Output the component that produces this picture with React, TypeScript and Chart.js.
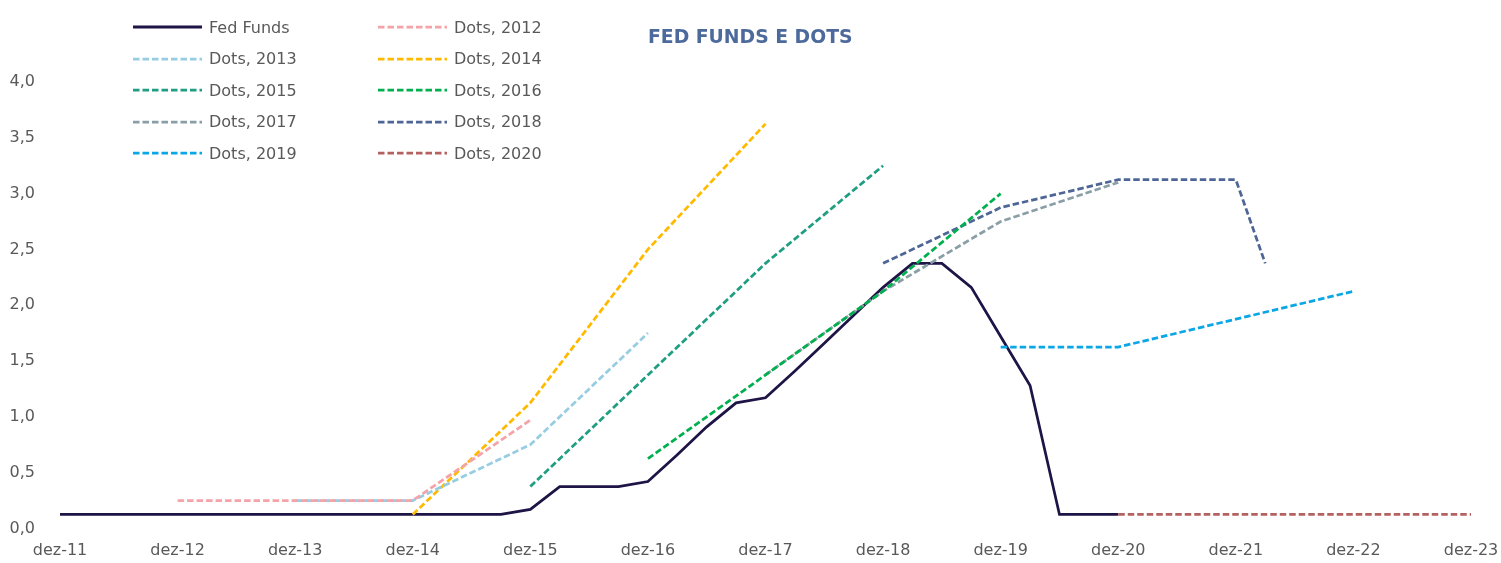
import React, { useEffect, useRef } from "react";
import { Chart, registerables } from "chart.js";

Chart.register(...registerables);

const quarterLabels: string[] = [
  "dez-11",
  "mar-12", "jun-12", "set-12", "dez-12",
  "mar-13", "jun-13", "set-13", "dez-13",
  "mar-14", "jun-14", "set-14", "dez-14",
  "mar-15", "jun-15", "set-15", "dez-15",
  "mar-16", "jun-16", "set-16", "dez-16",
  "mar-17", "jun-17", "set-17", "dez-17",
  "mar-18", "jun-18", "set-18", "dez-18",
  "mar-19", "jun-19", "set-19", "dez-19",
  "mar-20", "jun-20", "set-20", "dez-20",
  "mar-21", "jun-21", "set-21", "dez-21",
  "mar-22", "jun-22", "set-22", "dez-22",
  "mar-23", "jun-23", "set-23", "dez-23",
];

const yTicks: number[] = [0, 0.5, 1, 1.5, 2, 2.5, 3, 3.5, 4];

// Fed Funds, quarterly from dez-11 to dez-20
const fedFunds: number[] = [
  0.125,
  0.125, 0.125, 0.125, 0.125,
  0.125, 0.125, 0.125, 0.125,
  0.125, 0.125, 0.125, 0.125,
  0.125, 0.125, 0.125, 0.17,
  0.375, 0.375, 0.375, 0.42,
  0.66, 0.91, 1.125, 1.17,
  1.41, 1.66, 1.91, 2.16,
  2.375, 2.375, 2.16, 1.72,
  1.28, 0.125, 0.125, 0.125,
];

type Pt = [string, number];
const dots2012: Pt[] = [["dez-12", 0.25], ["dez-13", 0.25], ["dez-14", 0.25], ["dez-15", 0.97]];
const dots2013: Pt[] = [["dez-13", 0.25], ["dez-14", 0.25], ["dez-15", 0.75], ["dez-16", 1.75]];
const dots2014: Pt[] = [["dez-14", 0.125], ["dez-15", 1.125], ["dez-16", 2.5], ["dez-17", 3.625]];
const dots2015: Pt[] = [["dez-15", 0.375], ["dez-16", 1.375], ["dez-17", 2.375], ["dez-18", 3.25]];
const dots2016: Pt[] = [["dez-16", 0.625], ["dez-17", 1.375], ["dez-18", 2.125], ["dez-19", 3.0]];
const dots2017: Pt[] = [["dez-17", 1.375], ["dez-18", 2.125], ["dez-19", 2.75], ["dez-20", 3.1]];
const dots2018: Pt[] = [["dez-18", 2.375], ["dez-19", 2.875], ["dez-20", 3.125], ["dez-21", 3.125], ["mar-22", 2.375]];
const dots2019: Pt[] = [["dez-19", 1.625], ["dez-20", 1.625], ["dez-21", 1.875], ["dez-22", 2.125]];
const dots2020: Pt[] = [["dez-20", 0.125], ["dez-21", 0.125], ["dez-22", 0.125], ["dez-23", 0.125]];

type SeriesDef = { name: string; color: string; dashed: boolean; pts?: Pt[] };

const FF_COLOR = "#1E1445";

const dotSeries: SeriesDef[] = [
  { name: "Dots, 2012", color: "#F4A3A8", dashed: true, pts: dots2012 },
  { name: "Dots, 2013", color: "#96CDE2", dashed: true, pts: dots2013 },
  { name: "Dots, 2014", color: "#FFBA00", dashed: true, pts: dots2014 },
  { name: "Dots, 2015", color: "#1F9E82", dashed: true, pts: dots2015 },
  { name: "Dots, 2016", color: "#00B04F", dashed: true, pts: dots2016 },
  { name: "Dots, 2017", color: "#8A9EA6", dashed: true, pts: dots2017 },
  { name: "Dots, 2018", color: "#4E6696", dashed: true, pts: dots2018 },
  { name: "Dots, 2019", color: "#0AA6E6", dashed: true, pts: dots2019 },
  { name: "Dots, 2020", color: "#B4625F", dashed: true, pts: dots2020 },
];

// legend order (two columns, row-major)
const legendItems: SeriesDef[] = [
  { name: "Fed Funds", color: FF_COLOR, dashed: false },
  dotSeries[0],
  dotSeries[1],
  dotSeries[2],
  dotSeries[3],
  dotSeries[4],
  dotSeries[5],
  dotSeries[6],
  dotSeries[7],
  dotSeries[8],
];

const FONT = "'DejaVu Sans', Verdana, sans-serif";
const TEXT = "#595959";

export default function App() {
  const ref = useRef<HTMLCanvasElement | null>(null);

  useEffect(() => {
    if (!ref.current) return;
    const datasets: any[] = [];
    dotSeries.forEach((s) => {
      datasets.push({
        label: s.name,
        data: (s.pts || []).map(([x, y]) => ({ x, y })),
        borderColor: s.color,
        backgroundColor: s.color,
        borderWidth: 2.75,
        borderDash: [6.5, 3],
        pointRadius: 0,
        tension: 0,
        fill: false,
      });
    });
    datasets.push({
      label: "Fed Funds",
      data: fedFunds,
      borderColor: FF_COLOR,
      backgroundColor: FF_COLOR,
      borderWidth: 2.75,
      pointRadius: 0,
      tension: 0,
      fill: false,
    });

    const chart = new Chart(ref.current, {
      type: "line",
      data: { labels: quarterLabels, datasets },
      options: {
        animation: false,
        responsive: false,
        maintainAspectRatio: false,
        layout: { padding: { left: 0, right: 30, top: 82, bottom: 0 } },
        plugins: {
          legend: { display: false },
          title: { display: false },
          tooltip: { enabled: false },
        },
        scales: {
          x: {
            type: "category",
            offset: false,
            grid: { display: false, drawTicks: false },
            border: { display: false },
            ticks: {
              autoSkip: false,
              maxRotation: 0,
              minRotation: 0,
              padding: 13,
              color: TEXT,
              font: { family: FONT, size: 16 },
              callback: function (this: any, val: any) {
                const l = this.getLabelForValue(val);
                return l.startsWith("dez") ? l : "";
              },
            },
            afterFit: (scale: any) => {
              scale.height = 33;
              scale.paddingRight = 0;
              scale.paddingLeft = 0;
            },
          },
          y: {
            min: 0,
            max: 4,
            grid: { display: false, drawTicks: false },
            border: { display: false },
            afterBuildTicks: (scale: any) => {
              scale.ticks = yTicks.map((v) => ({ value: v }));
            },
            ticks: {
              padding: 25,
              color: TEXT,
              font: { family: FONT, size: 16 },
              callback: (v: any) => Number(v).toFixed(1).replace(".", ","),
            },
            afterFit: (scale: any) => {
              scale.width = 60;
            },
          },
        },
      },
    });
    return () => chart.destroy();
  }, []);

  const rowTop = [27, 58.5, 90, 121.5, 153];
  const colLineX = [133, 378];

  return (
    <div
      style={{
        position: "fixed",
        left: 0,
        top: 0,
        width: 1501,
        height: 563,
        background: "#ffffff",
        overflow: "hidden",
      }}
    >
      <canvas ref={ref} width={1501} height={563} style={{ display: "block" }} />
      <div
        style={{
          position: "absolute",
          left: 648,
          top: 26,
          fontFamily: FONT,
          fontWeight: "bold",
          fontSize: 18.8,
          color: "#4D6A9C",
          lineHeight: "22px",
          whiteSpace: "nowrap",
        }}
      >
        FED FUNDS E DOTS
      </div>
      {legendItems.map((it, i) => {
        const col = i % 2;
        const row = Math.floor(i / 2);
        const cy = rowTop[row];
        return (
          <div
            key={it.name}
            style={{
              position: "absolute",
              left: colLineX[col],
              top: cy - 11,
              height: 22,
              display: "flex",
              alignItems: "center",
              fontFamily: FONT,
              fontSize: 16,
              color: TEXT,
              whiteSpace: "nowrap",
            }}
          >
            <svg width={69} height={6} style={{ display: "block" }}>
              <line
                x1={0}
                y1={3}
                x2={69}
                y2={3}
                stroke={it.color}
                strokeWidth={it.dashed ? 2.75 : 3}
                strokeDasharray={it.dashed ? "6.5 3" : undefined}
              />
            </svg>
            <span style={{ marginLeft: 7 }}>{it.name}</span>
          </div>
        );
      })}
    </div>
  );
}
